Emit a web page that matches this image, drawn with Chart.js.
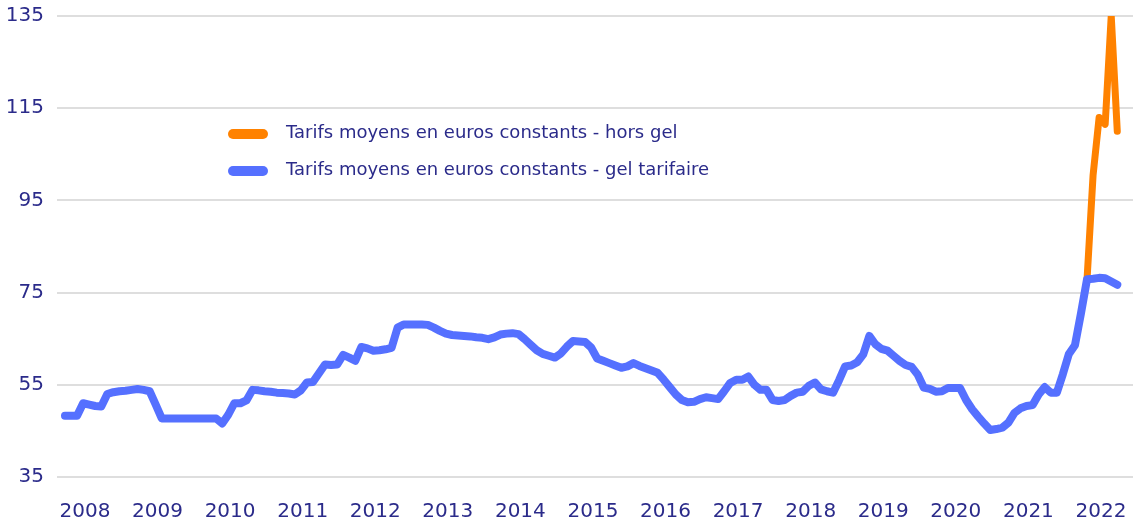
<!DOCTYPE html>
<html><head><meta charset="utf-8">
<script src="https://cdn.jsdelivr.net/npm/chart.js@4.4.1/dist/chart.umd.min.js"></script>
<style>html,body{margin:0;padding:0;background:#fff}#wrap{width:1135px;height:525px;position:relative}</style>
</head><body><div id="wrap"><canvas id="c" width="1135" height="525"></canvas></div>
<script>
// Year tick labels (x axis)
const yearLabels = ['2008','2009','2010','2011','2012','2013','2014','2015','2016','2017','2018','2019','2020','2021','2022'];
// Y ticks
const yTicks = [35, 55, 75, 95, 115, 135];
// Series names
const seriesNames = ['Tarifs moyens en euros constants - hors gel', 'Tarifs moyens en euros constants - gel tarifaire'];
// Monthly values, gel tarifaire (from month 0 = first month of 2008)
const gelTarifaire = [
  48.3,48.3,48.3,51.0,50.7,50.4,50.3,53.0,53.4,53.6,53.7,53.9,
  54.1,53.9,53.6,50.7,47.7,47.7,47.7,47.7,47.7,47.7,47.7,47.7,
  47.7,47.7,46.6,48.5,51.0,51.0,51.6,53.9,53.8,53.6,53.5,53.3,
  53.2,53.1,52.9,53.8,55.5,55.6,57.5,59.4,59.3,59.4,61.5,60.9,
  60.2,63.2,62.9,62.4,62.5,62.7,63.0,67.4,68.1,68.1,68.1,68.1,
  68.0,67.4,66.7,66.1,65.8,65.7,65.6,65.5,65.3,65.2,64.9,65.3,
  65.9,66.1,66.2,66.0,64.9,63.7,62.5,61.7,61.3,60.9,61.8,63.3,
  64.5,64.4,64.3,63.1,60.7,60.2,59.7,59.2,58.7,59.0,59.7,59.1,
  58.6,58.1,57.6,56.1,54.5,52.9,51.7,51.2,51.3,51.9,52.3,52.1,
  51.9,53.6,55.4,56.1,56.1,56.8,55.0,53.9,53.9,51.7,51.5,51.7,
  52.6,53.3,53.5,54.8,55.5,54.0,53.6,53.3,56.0,59.0,59.2,59.9,
  61.6,65.6,63.8,62.8,62.4,61.3,60.2,59.3,58.9,57.2,54.4,54.1,
  53.5,53.6,54.3,54.3,54.3,51.7,49.7,48.1,46.6,45.2,45.4,45.7,
  46.8,48.9,49.9,50.4,50.6,52.9,54.5,53.3,53.3,57.3,61.7,63.6,
  70.5,77.9,78.0,78.2,78.1,77.4,76.7
];
// Hors gel values (start at month index 169)
const horsGelStart = 169;
const horsGel = [77.9, 100.5, 113.0, 111.5, 135.0, 110.0];

const blueData = gelTarifaire.map((v, i) => ({x: i, y: v}));
const orangeData = horsGel.map((v, i) => ({x: horsGelStart + i, y: v}));

const TEXT = '#2b2b8a';
const ORANGE = '#ff8200';
const BLUE = '#5570ff';
const FONT = 'DejaVu Sans';

const legendPlugin = {
  id: 'insideLegend',
  afterDraw(chart) {
    const ctx = chart.ctx;
    const items = [
      {label: seriesNames[0], color: ORANGE, y: 134},
      {label: seriesNames[1], color: BLUE, y: 171}
    ];
    ctx.save();
    ctx.font = '18px "' + FONT + '"';
    ctx.textBaseline = 'middle';
    ctx.textAlign = 'left';
    items.forEach(it => {
      ctx.strokeStyle = it.color;
      ctx.lineWidth = 10;
      ctx.lineCap = 'round';
      ctx.beginPath();
      ctx.moveTo(233, it.y);
      ctx.lineTo(263, it.y);
      ctx.stroke();
      ctx.fillStyle = TEXT;
      ctx.fillText(it.label, 286, it.y - 1);
    });
    ctx.restore();
  }
};

new Chart(document.getElementById('c'), {
  type: 'line',
  data: {
    datasets: [
      {label: seriesNames[0], data: orangeData, borderColor: ORANGE, backgroundColor: ORANGE,
       borderWidth: 7, pointRadius: 0, tension: 0, borderJoinStyle: 'round', borderCapStyle: 'round', order: 1},
      {label: seriesNames[1], data: blueData, borderColor: BLUE, backgroundColor: BLUE,
       borderWidth: 8, pointRadius: 0, tension: 0, borderJoinStyle: 'round', borderCapStyle: 'round', order: 0}
    ]
  },
  options: {
    responsive: false,
    animation: false,
    devicePixelRatio: 1,
    layout: {padding: {top: 16, right: 2, left: 0, bottom: 0}},
    plugins: {legend: {display: false}, tooltip: {enabled: false}},
    scales: {
      x: {
        type: 'linear', min: -1.32, max: 176.6,
        grid: {display: false, drawTicks: false},
        border: {display: false},
        afterBuildTicks: s => { s.ticks = yearLabels.map((l, k) => ({value: 12 * k + 3.3})); },
        afterFit: s => { s.height = 48; s.paddingLeft = 0; s.paddingRight = 0; },
        ticks: {autoSkip: false, maxRotation: 0, minRotation: 0, padding: 23, color: TEXT,
          font: {family: FONT, size: 20},
          callback: (v, i) => yearLabels[i]}
      },
      y: {
        type: 'linear', min: 35, max: 135,
        grid: {color: '#dedede', lineWidth: 2, drawTicks: false},
        border: {display: false},
        afterBuildTicks: s => { s.ticks = yTicks.map(v => ({value: v})); },
        afterFit: s => { s.width = 57; s.paddingTop = 0; s.paddingBottom = 0; },
        ticks: {padding: 13, color: TEXT, font: {family: FONT, size: 20}}
      }
    }
  },
  plugins: [legendPlugin]
});
</script></body></html>
